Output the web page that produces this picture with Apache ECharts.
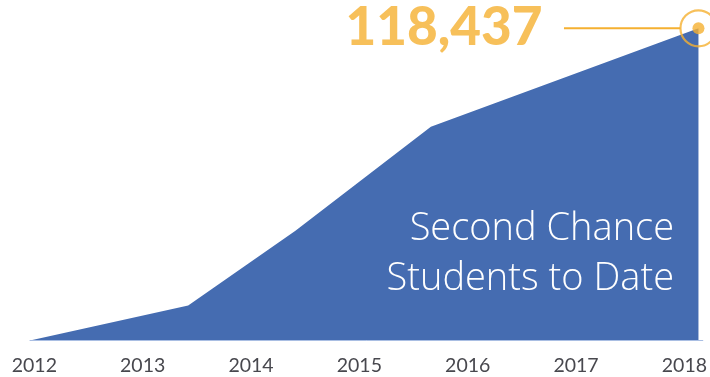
<!DOCTYPE html>
<html>
<head>
<meta charset="utf-8">
<script src="https://cdn.jsdelivr.net/npm/echarts@6/dist/echarts.min.js"></script>
<style>
  html, body { margin: 0; padding: 0; background: #ffffff; }
  #chart { width: 710px; height: 377px; }
</style>
</head>
<body>
<div id="chart"></div>
<script>
// Cumulative Second Chance students, sampled at fractional years
const pointYears = [2011.96, 2013.42, 2014.41, 2015.66, 2018.13];
const studentTotals = [0, 13300, 41600, 81050, 118437];
const tickYears = [2012, 2013, 2014, 2015, 2016, 2017, 2018];
const captionLines = ['Second Chance', 'Students to Date'];

const BLUE = '#456cb1';
const GOLD = '#f5b031';

const areaData = pointYears.map((y, i) => [y, studentTotals[i]]);
const lastPoint = areaData[areaData.length - 1];

const chart = echarts.init(document.getElementById('chart'), null, { renderer: 'canvas' });

chart.setOption({
  animation: false,
  backgroundColor: '#ffffff',
  grid: { left: 30, right: 6, top: 28.3, bottom: 36.5, containLabel: false },
  xAxis: {
    type: 'value',
    min: 2011.96,
    max: 2018.17,
    z: 5,
    axisLine: { show: true, lineStyle: { color: '#a9bee3', width: 1 } },
    axisTick: { show: false },
    splitLine: { show: false },
    axisLabel: {
      customValues: tickYears,
      formatter: v => String(Math.round(v)),
      color: '#48484e',
      fontFamily: 'Lato',
      fontWeight: 400,
      fontSize: 19.5,
      margin: 15
    }
  },
  yAxis: {
    type: 'value',
    min: 0,
    max: 118437,
    show: false,
    splitLine: { show: false }
  },
  series: [
    {
      type: 'line',
      data: areaData,
      symbol: 'none',
      lineStyle: { width: 0 },
      areaStyle: { color: BLUE, opacity: 1 },
      z: 2
    },
    {
      // outer ring around the latest total
      type: 'scatter',
      data: [lastPoint],
      symbol: 'circle',
      symbolSize: 36,
      itemStyle: { color: 'rgba(0,0,0,0)', borderColor: GOLD, borderWidth: 2.2 },
      z: 4,
      silent: true
    },
    {
      // latest total, labelled with its value
      type: 'scatter',
      data: [lastPoint],
      symbol: 'circle',
      symbolSize: 12,
      itemStyle: { color: GOLD },
      z: 5,
      label: {
        show: true,
        position: 'left',
        distance: 150,
        formatter: p => p.value[1].toLocaleString('en-US'),
        color: GOLD,
        fontFamily: 'Lato',
        fontWeight: 900,
        fontSize: 53
      }
    }
  ]
});

// leader line between the value label and the ring
const dot = chart.convertToPixel({ gridIndex: 0 }, lastPoint);
chart.setOption({
  graphic: [
    {
      type: 'line',
      shape: { x1: dot[0] - 134.5, y1: dot[1], x2: dot[0] - 18, y2: dot[1] },
      style: { stroke: GOLD, lineWidth: 2 },
      z: 10
    },
    {
      type: 'text',
      x: 674,
      y: 204,
      style: {
        text: captionLines.join('\n'),
        fill: '#ffffff',
        font: '300 38px "Open Sans"',
        align: 'right',
        verticalAlign: 'top',
        lineHeight: 50
      },
      z: 10
    }
  ]
});
</script>
</body>
</html>
